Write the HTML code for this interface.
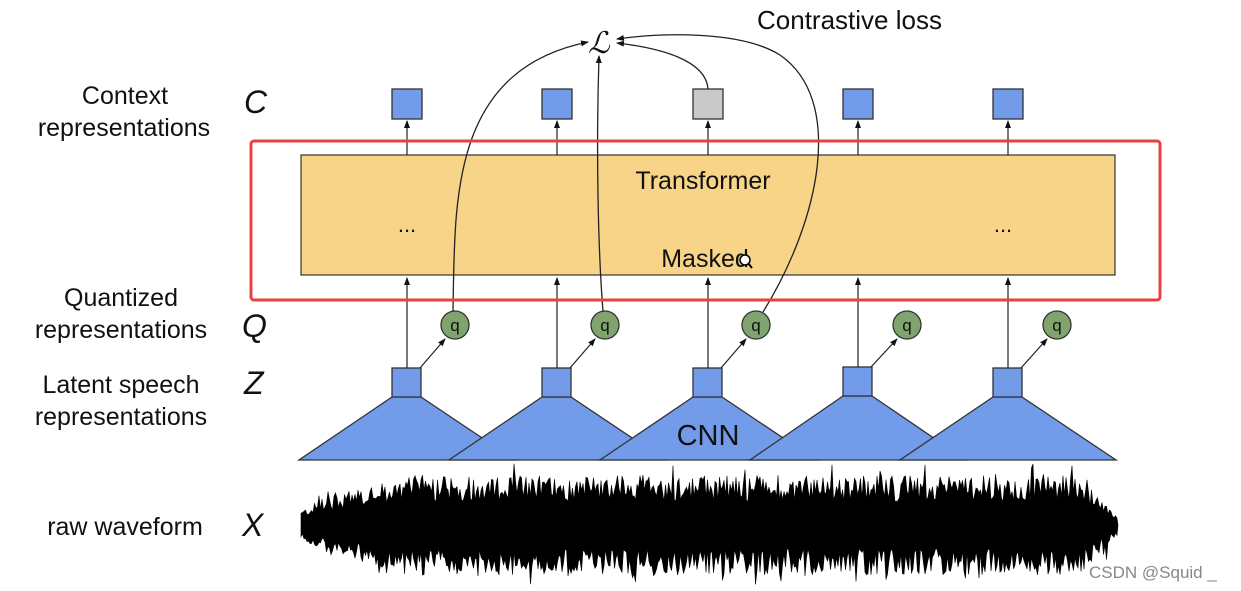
<!DOCTYPE html>
<html><head><meta charset="utf-8"><style>
html,body{margin:0;padding:0;background:#fff;width:1241px;height:591px;overflow:hidden}
svg{display:block}
text{font-family:"Liberation Sans",sans-serif}
.m{font-family:"Liberation Serif",serif;font-style:italic;font-size:32px}
</style></head><body>
<svg width="1241" height="591" viewBox="0 0 1241 591" xmlns="http://www.w3.org/2000/svg">
<defs>
<marker id="a" markerWidth="8" markerHeight="8" refX="7" refY="4" orient="auto" markerUnits="userSpaceOnUse"><path d="M0,1 L8,4 L0,7 Z" fill="#111"/></marker>
</defs>
<g font-size="25" fill="#111" text-anchor="middle">
<text x="125" y="104">Context</text>
<text x="124" y="136">representations</text>
<text x="121" y="306">Quantized</text>
<text x="121" y="338">representations</text>
<text x="121" y="393">Latent speech</text>
<text x="121" y="425">representations</text>
<text x="125" y="535">raw waveform</text>
</g>
<g class="m" fill="#111">
<text x="244" y="113">C</text>
<text x="242" y="337">Q</text>
<text x="244" y="394">Z</text>
<text x="242" y="536">X</text>
</g>
<text x="588" y="53" font-family="DejaVu Serif,serif" font-style="italic" font-size="30" fill="#111">ℒ</text>
<text x="757" y="29" font-size="26" fill="#111">Contrastive loss</text>

<rect x="301" y="155" width="814" height="120" fill="#f7d488" stroke="#333" stroke-width="1.2"/>
<text x="703" y="189" font-size="25" fill="#111" text-anchor="middle">Transformer</text>
<text x="705" y="267" font-size="25" fill="#111" text-anchor="middle">Masked</text>
<text x="407" y="232" font-size="22" fill="#111" text-anchor="middle">...</text>
<text x="1003" y="232" font-size="22" fill="#111" text-anchor="middle">...</text>
<circle cx="745" cy="260" r="5" fill="#fff" stroke="#000" stroke-width="1.5"/><line x1="748" y1="263" x2="752" y2="268" stroke="#000" stroke-width="2"/>

<g stroke="#222" stroke-width="1.2">
<line x1="407" y1="155" x2="407" y2="121" marker-end="url(#a)"/>
<line x1="557" y1="155" x2="557" y2="121" marker-end="url(#a)"/>
<line x1="708" y1="155" x2="708" y2="121" marker-end="url(#a)"/>
<line x1="858" y1="155" x2="858" y2="121" marker-end="url(#a)"/>
<line x1="1008" y1="155" x2="1008" y2="121" marker-end="url(#a)"/>
</g>
<g stroke="#333" stroke-width="1.3">
<rect x="392" y="89" width="30" height="30" fill="#729bea"/>
<rect x="542" y="89" width="30" height="30" fill="#729bea"/>
<rect x="693" y="89" width="30" height="30" fill="#c9c9c9"/>
<rect x="843" y="89" width="30" height="30" fill="#729bea"/>
<rect x="993" y="89" width="30" height="30" fill="#729bea"/>
</g>

<g stroke="#333" stroke-width="1.3" fill="#729bea">
<path d="M392,397 L421,397 L515,460 L299,460 Z"/>
<path d="M542,397 L571,397 L665,460 L449,460 Z"/>
<path d="M693,397 L722,397 L816,460 L600,460 Z"/>
<path d="M843,396 L872,396 L966,460 L750,460 Z"/>
<path d="M993,397 L1022,397 L1116,460 L900,460 Z"/>
<rect x="392" y="368" width="29" height="29"/>
<rect x="542" y="368" width="29" height="29"/>
<rect x="693" y="368" width="29" height="29"/>
<rect x="843" y="367" width="29" height="29"/>
<rect x="993" y="368" width="29" height="29"/>
</g>
<text x="708" y="445" font-size="29" fill="#111" text-anchor="middle">CNN</text>

<g stroke="#222" stroke-width="1.2">
<line x1="407" y1="368" x2="407" y2="278" marker-end="url(#a)"/>
<line x1="557" y1="368" x2="557" y2="278" marker-end="url(#a)"/>
<line x1="708" y1="368" x2="708" y2="278" marker-end="url(#a)"/>
<line x1="858" y1="367" x2="858" y2="278" marker-end="url(#a)"/>
<line x1="1008" y1="368" x2="1008" y2="278" marker-end="url(#a)"/>
<line x1="420" y1="368" x2="445" y2="339" marker-end="url(#a)"/>
<line x1="570" y1="368" x2="595" y2="339" marker-end="url(#a)"/>
<line x1="721" y1="368" x2="746" y2="339" marker-end="url(#a)"/>
<line x1="871" y1="367" x2="897" y2="339" marker-end="url(#a)"/>
<line x1="1021" y1="368" x2="1047" y2="339" marker-end="url(#a)"/>
</g>
<g stroke="#333" stroke-width="1.3" fill="#7fa46e">
<circle cx="455" cy="325" r="14"/><circle cx="605" cy="325" r="14"/><circle cx="756" cy="325" r="14"/><circle cx="907" cy="325" r="14"/><circle cx="1057" cy="325" r="14"/>
</g>
<g font-size="17" fill="#111" text-anchor="middle">
<text x="455" y="331">q</text><text x="605" y="331">q</text><text x="756" y="331">q</text><text x="907" y="331">q</text><text x="1057" y="331">q</text>
</g>

<g fill="none" stroke="#222" stroke-width="1.3">
<path d="M453,311 C455,200 450,70 588,42" marker-end="url(#a)"/>
<path d="M603,311 C598,250 596,150 599,56" marker-end="url(#a)"/>
<path d="M708,89 C706,60 660,48 617,43" marker-end="url(#a)"/>
<path d="M763,312 C820,220 845,100 780,55 C740,30 660,33 617,39" marker-end="url(#a)"/>
</g>

<rect x="251" y="141" width="909" height="159" rx="3" fill="none" stroke="#e84040" stroke-width="3"/>

<path id="wave" fill="#000" stroke="#000" stroke-width="0.6" d=""/>
<text x="1089" y="578" font-size="17" fill="#888">CSDN @Squid _</text>
</svg>
<script>
(function(){
var s=12345;function r(){s=(s*1103515245+12345)%2147483648;return s/2147483648;}
var top=[],bot=[];
for(var x=301;x<=1118;x+=1.5){
 var env;
 if(x<330)env=12+(x-301)*0.6;else if(x<420)env=29+(x-330)*0.22;else if(x<1080)env=48;else env=48-(x-1080)*1.1;
 if(x>1100)env=Math.max(4,env);
 var t=env*(0.45+0.55*r())+ (r()<0.1?r()*14:0);
 var b=env*(0.45+0.55*r())+ (r()<0.1?r()*16:0);
 top.push(x.toFixed(1)+","+(523-t).toFixed(1));
 bot.push(x.toFixed(1)+","+(527+b).toFixed(1));
}
var d="M301,525 L"+top.join(" L")+" L1118,525 L"+bot.reverse().join(" L")+" Z";
document.getElementById("wave").setAttribute("d",d);
})();
</script>
</body></html>
